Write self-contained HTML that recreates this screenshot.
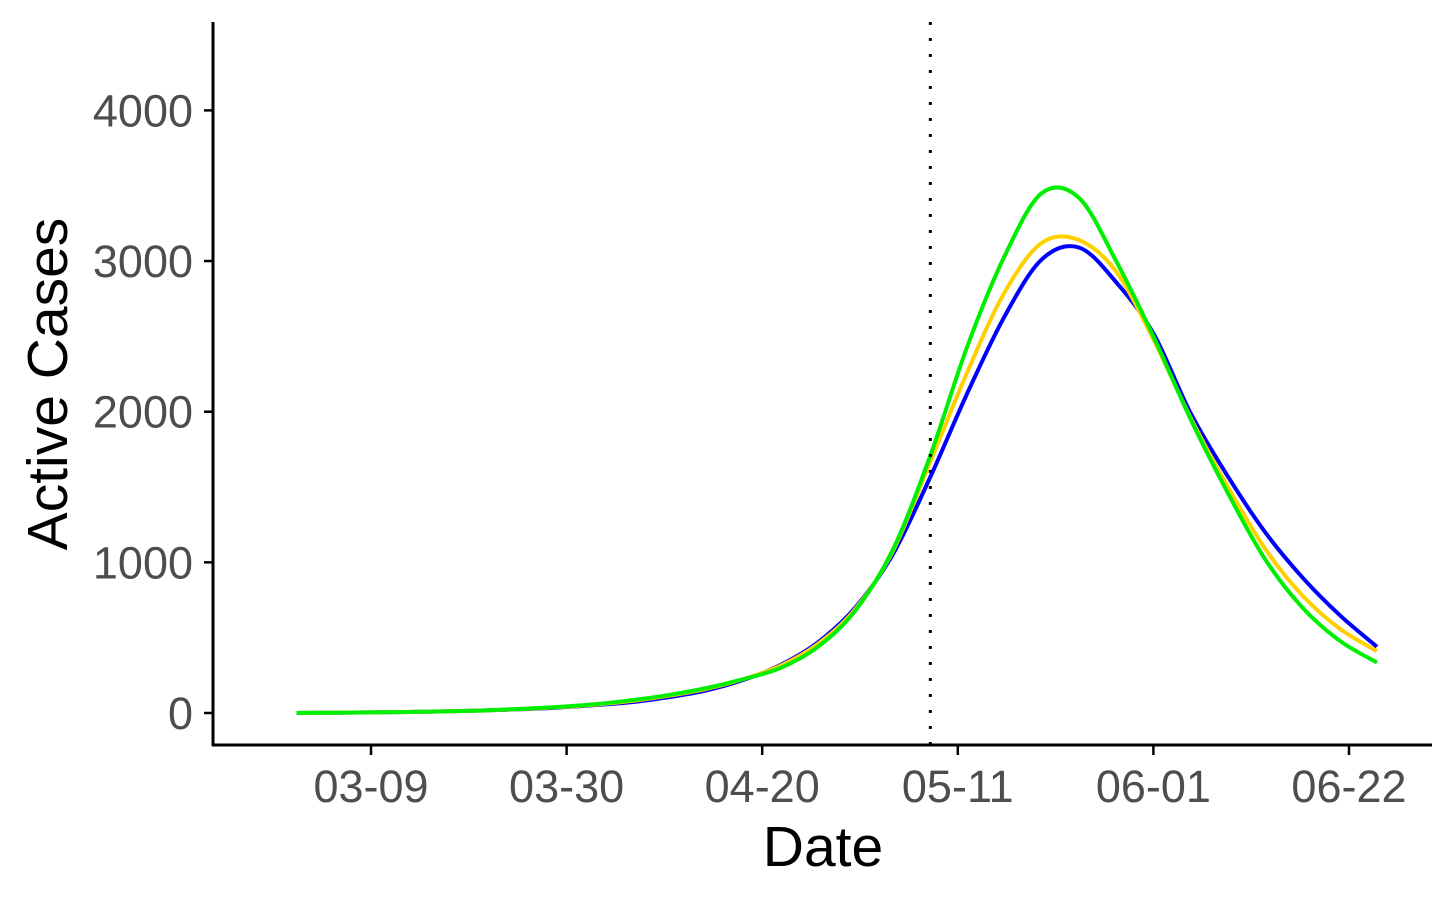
<!DOCTYPE html>
<html><head><meta charset="utf-8"><style>
body{margin:0;background:#fff}
svg{display:block}
text{font-family:"Liberation Sans",sans-serif}
</style></head><body>
<svg id="chart" width="1456" height="900">
</svg>
<script>
const days = [0,4,8,12,16,20,24,28,32,36,40,44,48,52,56,60,64,68,72,76,80,84,88,92,96,100,104,108,112,116];
const blueVals = [0,2,4,7,11,17,25,36,52,72,105,150,220,320,470,700,1050,1560,2120,2630,3010,3090,2860,2520,1990,1570,1200,900,650,440];
const yellowVals = [0,2,4,7,11,17,26,38,55,80,115,160,225,315,460,690,1070,1660,2260,2790,3120,3140,2930,2480,1960,1500,1090,780,560,410];
const greenVals = [0,2,4,7,11,17,27,40,58,85,120,165,225,300,440,680,1080,1700,2430,3030,3450,3420,3000,2500,1950,1460,1020,700,480,335];
const yTicks = [0,1000,2000,3000,4000];
const xTickDays = [8,29,50,71,92,113];
const xTickLabels = ["03-09","03-30","04-20","05-11","06-01","06-22"];
const vlineDay = 68;

const NS="http://www.w3.org/2000/svg";
const svg=document.getElementById('chart');
const X=d=>296.5+d*9.314;
const Y=v=>713-v*0.15065;
function mk(tag,attrs,parent){const e=document.createElementNS(NS,tag);for(const k in attrs)e.setAttribute(k,attrs[k]);(parent||svg).appendChild(e);return e;}

const ya=mk('line',{x1:213,y1:22,x2:213,y2:746,stroke:'#000','stroke-width':3});


const xa=mk('line',{x1:212,y1:745,x2:1432,y2:745,stroke:'#000','stroke-width':3});



yTicks.forEach(v=>{
  const t=mk('line',{x1:204,x2:213,y1:Y(v),y2:Y(v),stroke:'#000','stroke-width':2.5});
  
  
  const l=mk('text',{x:193,y:Y(v)+16,'text-anchor':'end','font-size':45,fill:'#4d4d4d'});
  l.textContent=v;
  
  
});
xTickDays.forEach((d,i)=>{
  const t=mk('line',{x1:X(d),x2:X(d),y1:745,y2:755,stroke:'#000','stroke-width':2.5});
  
  
  const l=mk('text',{x:X(d),y:802,'text-anchor':'middle','font-size':45,fill:'#4d4d4d'});
  l.textContent=xTickLabels[i];
  
  
});

function pathFor(vals){
  const p=days.map((d,i)=>[X(d),Y(vals[i])]);
  let s='M'+p[0][0]+','+p[0][1];
  for(let i=0;i<p.length-1;i++){
    const p0=p[i-1]||p[i],p1=p[i],p2=p[i+1],p3=p[i+2]||p2;
    const c1=[p1[0]+(p2[0]-p0[0])/6,p1[1]+(p2[1]-p0[1])/6];
    const c2=[p2[0]-(p3[0]-p1[0])/6,p2[1]-(p3[1]-p1[1])/6];
    s+=' C'+c1+' '+c2+' '+p2;
  }
  return s;
}
const series=[['blue',blueVals,'#0000ff'],['yellow',yellowVals,'#ffd000'],['green',greenVals,'#00ee00']];
series.forEach(([n,v,c])=>{
  const e=mk('path',{d:pathFor(v),fill:'none',stroke:c,'stroke-width':4});
  
  
});
const vl=mk('line',{x1:X(vlineDay)+0.5,x2:X(vlineDay)+0.5,y1:22,y2:745,stroke:'#000','stroke-width':3,'stroke-dasharray':'3 13'});



const xt=mk('text',{x:823,y:866,'text-anchor':'middle','font-size':57,fill:'#000'});
xt.textContent='Date';


const yt=mk('text',{x:0,y:0,'text-anchor':'middle','font-size':57,fill:'#000',transform:'translate(67,384) rotate(-90)'});
yt.textContent='Active Cases';


</script>
</body></html>
